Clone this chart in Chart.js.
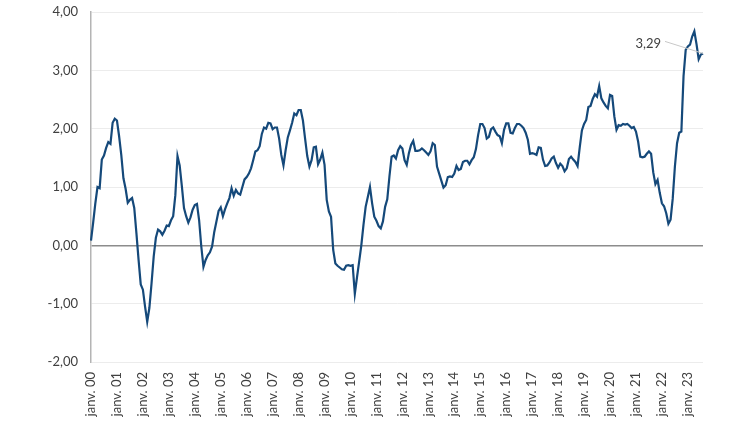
<!DOCTYPE html>
<html>
<head>
<meta charset="utf-8">
<script src="https://cdn.jsdelivr.net/npm/chart.js@4.4.0/dist/chart.umd.min.js"></script>
<style>
  body { margin: 0; background: #ffffff; }
  #wrap { width: 750px; height: 422px; }
</style>
</head>
<body>
<div id="wrap"><canvas id="spreadChart" width="750" height="422"></canvas></div>
<script>
// Monthly series, janv. 2000 -> août 2023

const monthNames = ['janv.', 'févr.', 'mars', 'avr.', 'mai', 'juin', 'juil.', 'août', 'sept.', 'oct.', 'nov.', 'déc.'];
const firstYear = 2000;

const values = [
    0.08, 0.39, 0.72, 1.00, 0.98, 1.47, 1.54, 1.67, 1.77, 1.74, 2.10, 2.17,   // 2000
    2.14, 1.87, 1.55, 1.15, 0.97, 0.73, 0.78, 0.81, 0.64, 0.21, -0.25, -0.67, // 2001
    -0.76, -1.05, -1.31, -1.07, -0.65, -0.19, 0.13, 0.27, 0.24, 0.18, 0.25, 0.34, // 2002
    0.33, 0.43, 0.50, 0.86, 1.53, 1.37, 1.02, 0.64, 0.50, 0.39, 0.48, 0.61,   // 2003
    0.69, 0.71, 0.43, -0.02, -0.37, -0.25, -0.17, -0.12, -0.02, 0.23, 0.41, 0.59, // 2004
    0.65, 0.50, 0.62, 0.72, 0.81, 0.98, 0.85, 0.95, 0.89, 0.87, 1.00, 1.13,   // 2005
    1.17, 1.23, 1.32, 1.46, 1.61, 1.63, 1.70, 1.91, 2.02, 2.00, 2.10, 2.09,   // 2006
    1.99, 2.02, 2.02, 1.83, 1.55, 1.37, 1.63, 1.85, 1.97, 2.10, 2.26, 2.23,   // 2007
    2.32, 2.32, 2.14, 1.83, 1.53, 1.35, 1.46, 1.68, 1.69, 1.39, 1.47, 1.59,   // 2008
    1.38, 0.78, 0.58, 0.49, -0.08, -0.31, -0.35, -0.38, -0.41, -0.42, -0.35, -0.34, // 2009
    -0.35, -0.34, -0.83, -0.55, -0.28, 0.00, 0.35, 0.66, 0.83, 1.00, 0.72, 0.49, // 2010
    0.42, 0.33, 0.29, 0.41, 0.66, 0.79, 1.18, 1.52, 1.54, 1.49, 1.63, 1.70,   // 2011
    1.66, 1.46, 1.38, 1.58, 1.72, 1.79, 1.62, 1.62, 1.63, 1.66, 1.63, 1.59,   // 2012
    1.55, 1.61, 1.75, 1.72, 1.35, 1.23, 1.11, 0.99, 1.03, 1.17, 1.18, 1.17,   // 2013
    1.23, 1.36, 1.29, 1.31, 1.43, 1.45, 1.45, 1.39, 1.46, 1.51, 1.65, 1.89,   // 2014
    2.08, 2.08, 2.01, 1.83, 1.86, 1.99, 2.02, 1.95, 1.89, 1.87, 1.75, 1.98,   // 2015
    2.09, 2.09, 1.93, 1.92, 2.01, 2.08, 2.08, 2.05, 2.01, 1.93, 1.81, 1.57,   // 2016
    1.58, 1.57, 1.55, 1.68, 1.67, 1.47, 1.36, 1.37, 1.42, 1.49, 1.52, 1.41,   // 2017
    1.33, 1.40, 1.36, 1.27, 1.32, 1.48, 1.52, 1.47, 1.43, 1.36, 1.68, 1.97,   // 2018
    2.08, 2.15, 2.37, 2.39, 2.51, 2.59, 2.55, 2.73, 2.52, 2.45, 2.39, 2.35,   // 2019
    2.58, 2.56, 2.21, 1.98, 2.06, 2.05, 2.08, 2.07, 2.08, 2.05, 2.01, 2.03,   // 2020
    1.95, 1.78, 1.52, 1.51, 1.52, 1.57, 1.61, 1.57, 1.25, 1.05, 1.12, 0.90,   // 2021
    0.72, 0.67, 0.55, 0.37, 0.44, 0.80, 1.35, 1.75, 1.93, 1.95, 2.90, 3.35,   // 2022
    3.41, 3.44, 3.58, 3.67, 3.45, 3.19, 3.27, 3.29                            // 2023
];

const yTicks = [-2, -1, 0, 1, 2, 3, 4];

// category labels "janv. 00", "févr. 00", ...
var labels = [];
for (var i = 0; i < values.length; i++) {
    var yr = firstYear + Math.floor(i / 12);
    labels.push(monthNames[i % 12] + ' ' + String(yr % 100).padStart(2, '0'));
}

function frNum(v) {
    return v.toFixed(2).replace('.', ',');
}

// label with leader line on the last point
const lastValueLabel = {
    id: 'lastValueLabel',
    afterDatasetsDraw(chart) {
        const meta = chart.getDatasetMeta(0);
        const pt = meta.data[meta.data.length - 1];
        const ctx = chart.ctx;
        ctx.save();
        ctx.strokeStyle = '#c8c8c8';
        ctx.lineWidth = 1;
        ctx.beginPath();
        ctx.moveTo(pt.x - 38, pt.y - 12);
        ctx.lineTo(pt.x, pt.y);
        ctx.stroke();
        ctx.fillStyle = '#404040';
        ctx.font = '13px Lato';
        ctx.textAlign = 'right';
        ctx.textBaseline = 'middle';
        ctx.fillText(frNum(values[values.length - 1]), pt.x - 42, pt.y - 10);
        ctx.restore();
    }
};

const ctx = document.getElementById('spreadChart').getContext('2d');
const spreadChart = new Chart(ctx, {
    type: 'line',
    data: {
        labels: labels,
        datasets: [{
            data: values,
            borderColor: '#15497a',
            borderWidth: 2.2,
            pointRadius: 0,
            tension: 0,
            fill: false
        }]
    },
    options: {
        responsive: false,
        animation: false,
        layout: {
            padding: { top: 12, right: 47, left: 0, bottom: 0 }
        },
        plugins: {
            legend: { display: false },
            tooltip: { enabled: false }
        },
        scales: {
            x: {
                offset: false,
                afterFit: function(scale) {
                    scale.height = 60;
                    scale.paddingLeft = 0;
                    scale.paddingRight = 0;
                },
                grid: { display: false },
                border: { display: false },
                ticks: {
                    autoSkip: false,
                    maxRotation: 90,
                    minRotation: 90,
                    padding: 2,
                    color: '#404040',
                    font: { family: 'Lato', size: 13 },
                    callback: function(val, index) {
                        return index % 12 === 0 ? labels[index] : null;
                    }
                }
            },
            y: {
                min: yTicks[0],
                max: yTicks[yTicks.length - 1],
                afterFit: function(scale) {
                    scale.width = 91;
                    scale.paddingTop = 0;
                    scale.paddingBottom = 0;
                },
                afterBuildTicks: function(scale) {
                    scale.ticks = yTicks.map(function(v) { return { value: v }; });
                },
                grid: {
                    drawTicks: false,
                    lineWidth: function(c) { return c.tick && c.tick.value === 0 ? 1.5 : 1; },
                    color: function(c) { return c.tick && c.tick.value === 0 ? '#8c8c8c' : '#ececec'; }
                },
                border: { display: true, color: '#b4b4b4', width: 1.5 },
                ticks: {
                    padding: 13,
                    color: '#404040',
                    font: { family: 'Lato', size: 13 },
                    callback: function(v) { return frNum(v); }
                }
            }
        }
    },
    plugins: [lastValueLabel]
});
</script>
</body>
</html>
